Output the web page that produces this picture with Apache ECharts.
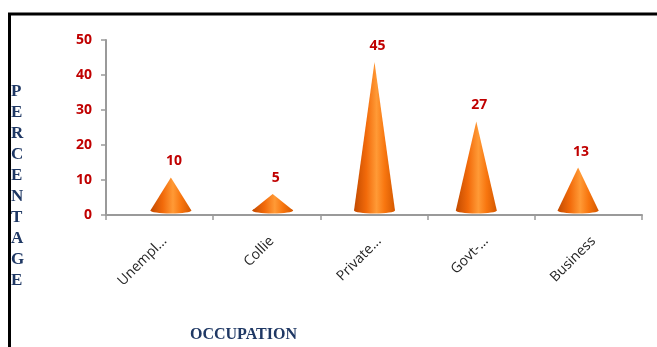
<!DOCTYPE html>
<html>
<head>
<meta charset="utf-8">
<script src="https://cdn.jsdelivr.net/npm/echarts@6/dist/echarts.min.js"></script>
<style>
  html, body { margin: 0; padding: 0; background: #ffffff; }
  #chart { width: 657px; height: 347px; }
</style>
</head>
<body>
<div id="chart"></div>
<script>
// Occupation breakdown (percentage of respondents)
const categories = ['Unempl...', 'Collie', 'Private...', 'Govt-...', 'Business'];
const percentages = [10, 5, 45, 27, 13];
const yTitleLetters = ['P', 'E', 'R', 'C', 'E', 'N', 'T', 'A', 'G', 'E'];
const xTitle = 'OCCUPATION';

const chart = echarts.init(document.getElementById('chart'), null, { renderer: 'canvas' });

const coneFill = new echarts.graphic.LinearGradient(0, 0, 1, 0, [
  { offset: 0, color: '#c24a00' },
  { offset: 0.3, color: '#f26a0a' },
  { offset: 0.55, color: '#ff9a36' },
  { offset: 0.75, color: '#f8760f' },
  { offset: 1, color: '#d45800' }
]);

// Draws each value as a cone: triangular body with an elliptical base.
// Cones sit on a slightly receded plane (second grid) for the 3D look.
function renderCone(params, api) {
  const value = api.value(1);
  const tip = api.coord([api.value(0), value]);
  const base = api.coord([api.value(0), 0]);
  const halfW = 20.5;
  const baseY = base[1];
  const ry = 3;
  return {
    type: 'group',
    children: [
      {
        type: 'ellipse',
        shape: { cx: base[0], cy: baseY, rx: halfW, ry: ry },
        style: { fill: coneFill }
      },
      {
        type: 'polygon',
        shape: { points: [[tip[0], tip[1]], [base[0] - halfW, baseY], [base[0] + halfW, baseY]] },
        style: { fill: coneFill }
      },
      {
        type: 'text',
        x: tip[0] + 3,
        y: tip[1] - 16,
        style: {
          text: String(value),
          fill: '#c00000',
          font: 'bold 14px "Open Sans", sans-serif',
          align: 'center',
          verticalAlign: 'middle'
        }
      }
    ]
  };
}

const yTitleGraphics = yTitleLetters.map((ch, i) => ({
  type: 'text',
  left: 11,
  top: 83 + i * 21,
  style: {
    text: ch,
    fill: '#1f3864',
    font: 'bold 17px "Liberation Serif", "DejaVu Serif", serif'
  }
}));

chart.setOption({
  backgroundColor: '#ffffff',
  animation: false,
  grid: [
    { left: 106, right: 15, top: 40, bottom: 132 },
    { left: 120, right: 28, top: 45.5, bottom: 136.5 }
  ],
  xAxis: [
    {
      type: 'category',
      gridIndex: 0,
      data: categories,
      axisLine: { lineStyle: { color: '#9a9a9a', width: 2 } },
      axisTick: { show: true, length: 5, lineStyle: { color: '#9a9a9a', width: 1.5 } },
      axisLabel: {
        rotate: 45,
        margin: 19,
        verticalAlign: 'top',
        color: '#262626',
        fontSize: 14,
        fontFamily: '"Open Sans", sans-serif'
      }
    },
    {
      type: 'category',
      gridIndex: 1,
      data: categories,
      show: false
    }
  ],
  yAxis: [
    {
      type: 'value',
      gridIndex: 0,
      min: 0,
      max: 50,
      interval: 10,
      splitLine: { show: false },
      axisLine: { show: true, lineStyle: { color: '#9a9a9a', width: 2 } },
      axisTick: { show: true, length: 5, lineStyle: { color: '#9a9a9a', width: 1.5 } },
      axisLabel: {
        margin: 14,
        color: '#c00000',
        fontSize: 14,
        fontWeight: 'bold',
        fontFamily: '"Open Sans", sans-serif'
      }
    },
    {
      type: 'value',
      gridIndex: 1,
      min: 0,
      max: 50,
      show: false
    }
  ],
  series: [
    {
      type: 'custom',
      xAxisIndex: 1,
      yAxisIndex: 1,
      renderItem: renderCone,
      data: percentages.map((v, i) => [i, v]),
      z: 5
    }
  ],
  graphic: [
    {
      type: 'rect',
      shape: { x: 9.5, y: 14, width: 760, height: 420 },
      style: { fill: 'none', stroke: '#000000', lineWidth: 3 }
    },
    ...yTitleGraphics,
    {
      type: 'text',
      left: 190,
      top: 327,
      style: {
        text: xTitle,
        fill: '#1f3864',
        font: 'bold 16px "Liberation Serif", "DejaVu Serif", serif'
      }
    }
  ]
});
</script>
</body>
</html>
